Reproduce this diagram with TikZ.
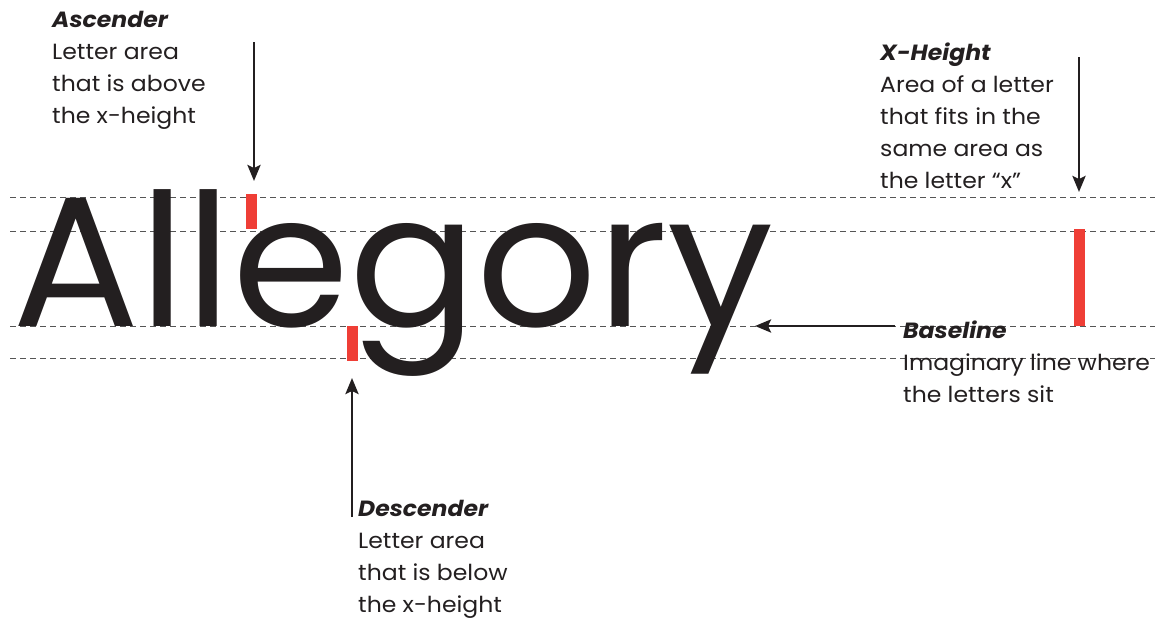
\documentclass[tikz,border=0pt]{standalone}
\usepackage{fontspec}
\setmainfont{Poppins}
\usetikzlibrary{arrows.meta}
\definecolor{ink}{HTML}{231F20}
\definecolor{redbar}{HTML}{EF3E36}
\definecolor{guide}{HTML}{555555}
\tikzset{
  guideline/.style={draw=guide, line width=1pt, dash pattern=on 6pt off 4pt},
  pointer/.style={draw=ink, line width=2.8pt, -{Stealth[length=16pt,width=13pt,inset=3pt]}},
  marker/.style={fill=redbar, draw=none},
  label/.style={anchor=base west, inner sep=0pt, text=ink, xscale=1.07, font=\fontsize{22}{32}\selectfont, align=left},
}
\begin{document}
\begin{tikzpicture}[x=1pt,y=-1pt]
\useasboundingbox (0,0) rectangle (1171,619);
% guide lines
\draw[guideline] (10,197) -- (1155,197);
\draw[guideline] (10,231) -- (1155,231);
\draw[guideline] (10,326) -- (1155,326);
\draw[guideline] (10,358) -- (1155,358);
% word
\node[anchor=base west, inner sep=0pt, text=ink, xscale=1.02, font=\fontsize{185}{185}\selectfont] (word) at (12,326) {Allegory};
% red markers
\fill[marker] (246,194) rectangle (257,229);
\fill[marker] (347,326) rectangle (358,361);
\fill[marker] (1074,229) rectangle (1085,326);
% labels (anchored at the baseline of the last line)
\node[label] (asc) at (52,123) {\textbf{\textit{Ascender}}\\Letter area\\that is above\\the x-height};
\node[label] (xh) at (880,188) {\textbf{\textit{X-Height}}\\Area of a letter\\that fits in the\\same area as\\the letter “x”};
\node[label] (base) at (903,402) {\textbf{\textit{Baseline}}\\Imaginary line where\\the letters sit};
\node[label] (desc) at (358,612) {\textbf{\textit{Descender}}\\Letter area\\that is below\\the x-height};
% arrow coordinates
\coordinate (a1) at (254,42); \coordinate (a2) at (254,181);
\coordinate (x1) at (1079,57); \coordinate (x2) at (1079,192);
\coordinate (d1) at (352,517); \coordinate (d2) at (352,378);
\coordinate (b1) at (895,326); \coordinate (b2) at (755,326);
\draw[pointer] (a1) -- (a2);
\draw[pointer] (x1) -- (x2);
\draw[pointer] (d1) -- (d2);
\draw[pointer] (b1) -- (b2);
\end{tikzpicture}
\end{document}
